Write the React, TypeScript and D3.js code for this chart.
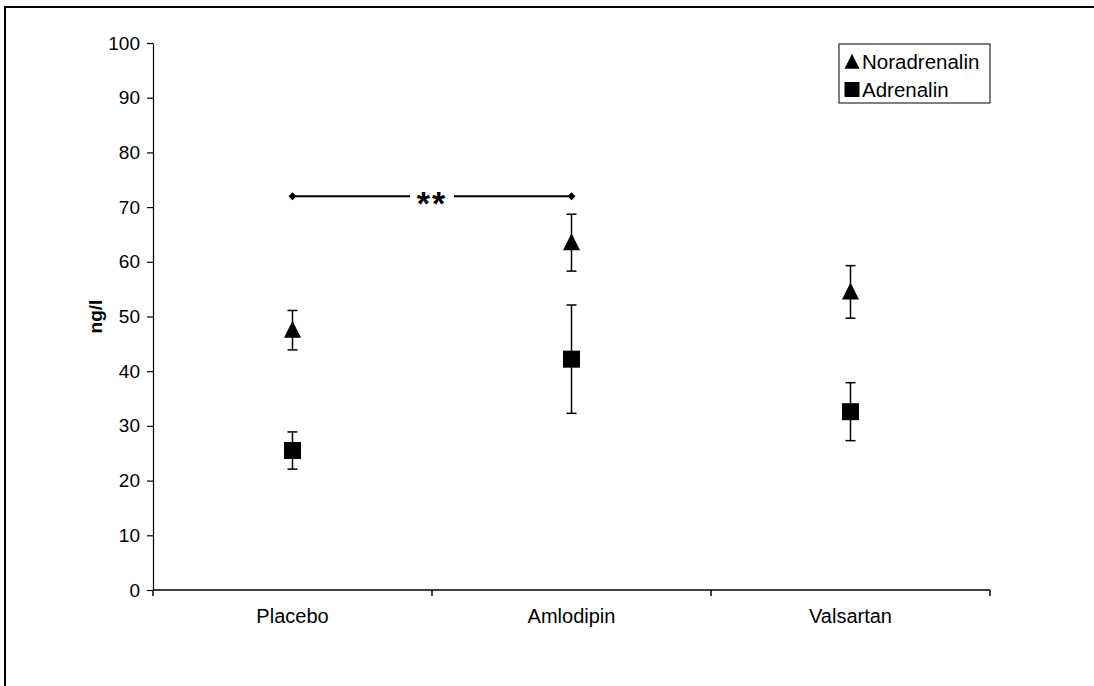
import * as d3 from "d3";
import { useEffect, useRef } from "react";

const categories = ["Placebo", "Amlodipin", "Valsartan"];
const noradrenalin = [47.5, 63.5, 54.5];
const noradrenalinErr = [3.6, 5.2, 4.8];
const adrenalin = [25.5, 42.2, 32.6];
const adrenalinErr = [3.4, 9.9, 5.3];
const yTicks = [0, 10, 20, 30, 40, 50, 60, 70, 80, 90, 100];
const sigLevel = 72;
const sigPair = ["Placebo", "Amlodipin"];

const W = 1094;
const H = 686;
const FONT = "'Liberation Sans', Arial, sans-serif";

export default function App() {
  const ref = useRef<SVGSVGElement>(null);

  useEffect(() => {
    const svg = d3.select(ref.current);
    svg.selectAll("*").remove();
    svg.attr("font-family", FONT);

    const left = 153, right = 990, top = 43, bottom = 590;

    const x = d3.scaleBand().domain(categories).range([left, right]).padding(0);
    const y = d3.scaleLinear().domain([0, 100]).range([bottom, top]);
    const cx = (c) => x(c) + x.bandwidth() / 2;

    // outer frame (runs off the page at right and bottom)
    svg.append("path")
      .attr("d", `M5,${H + 10}V7H${W + 10}`)
      .attr("fill", "none").attr("stroke", "#000").attr("stroke-width", 2);

    // y axis
    const ya = svg.append("g").attr("transform", `translate(${left},0)`)
      .call(d3.axisLeft(y).tickValues(yTicks).tickSize(6).tickSizeOuter(0).tickPadding(7));
    ya.select(".domain").attr("stroke", "#000").attr("stroke-width", 1.2);
    ya.selectAll("line").attr("stroke", "#000").attr("stroke-width", 1.2);
    ya.selectAll("text").attr("font-size", 19).attr("font-family", FONT).attr("fill", "#000");

    // x axis
    svg.append("line").attr("x1", left).attr("x2", right).attr("y1", bottom).attr("y2", bottom)
      .attr("stroke", "#000").attr("stroke-width", 1.5);
    const edges = categories.map((c) => x(c)).concat([right]);
    svg.selectAll(".xt").data(edges).join("line")
      .attr("x1", (d) => d).attr("x2", (d) => d).attr("y1", bottom).attr("y2", bottom + 6)
      .attr("stroke", "#000").attr("stroke-width", 1.5);
    svg.selectAll(".xl").data(categories).join("text")
      .attr("x", (d) => cx(d)).attr("y", bottom + 33)
      .attr("text-anchor", "middle").attr("font-size", 20).text((d) => d);

    svg.append("text")
      .attr("transform", `translate(102,${(top + bottom) / 2}) rotate(-90)`)
      .attr("text-anchor", "middle").attr("font-size", 19).attr("font-weight", "bold")
      .text("ng/l");

    // error bars
    const drawErr = (vals, errs) => {
      categories.forEach((c, i) => {
        const g = svg.append("g").attr("stroke", "#000").attr("stroke-width", 1.5);
        const lo = y(vals[i] - errs[i]), hi = y(vals[i] + errs[i]);
        g.append("line").attr("x1", cx(c)).attr("x2", cx(c)).attr("y1", lo).attr("y2", hi);
        g.append("line").attr("x1", cx(c) - 5).attr("x2", cx(c) + 5).attr("y1", lo).attr("y2", lo);
        g.append("line").attr("x1", cx(c) - 5).attr("x2", cx(c) + 5).attr("y1", hi).attr("y2", hi);
      });
    };
    drawErr(noradrenalin, noradrenalinErr);
    drawErr(adrenalin, adrenalinErr);

    const tri = (px, py, s) => `M${px},${py - s * 0.55}L${px + s / 2},${py + s * 0.45}L${px - s / 2},${py + s * 0.45}Z`;

    svg.selectAll(".nor").data(categories).join("path")
      .attr("d", (c, i) => tri(cx(c), y(noradrenalin[i]), 17)).attr("fill", "#000");
    svg.selectAll(".adr").data(categories).join("rect")
      .attr("x", (c) => cx(c) - 8.5).attr("y", (c, i) => y(adrenalin[i]) - 8.5)
      .attr("width", 17).attr("height", 17).attr("fill", "#000");

    // significance bracket
    const sx1 = cx(sigPair[0]), sx2 = cx(sigPair[1]), sy = y(sigLevel);
    const mid = (sx1 + sx2) / 2;
    svg.append("line").attr("x1", sx1).attr("x2", mid - 22).attr("y1", sy).attr("y2", sy)
      .attr("stroke", "#000").attr("stroke-width", 2);
    svg.append("line").attr("x1", mid + 22).attr("x2", sx2).attr("y1", sy).attr("y2", sy)
      .attr("stroke", "#000").attr("stroke-width", 2);
    [sx1, sx2].forEach((px) => {
      svg.append("path").attr("d", `M${px - 4},${sy}L${px},${sy - 4}L${px + 4},${sy}L${px},${sy + 4}Z`).attr("fill", "#000");
    });
    svg.append("text").attr("x", mid).attr("y", sy + 19).attr("text-anchor", "middle")
      .attr("font-size", 34).attr("font-weight", "bold").attr("letter-spacing", 2).text("**");

    // legend
    const lg = svg.append("g").attr("transform", "translate(839,44)");
    lg.append("rect").attr("width", 151).attr("height", 59).attr("fill", "#fff")
      .attr("stroke", "#000").attr("stroke-width", 1);
    lg.append("path").attr("d", tri(13, 18, 15)).attr("fill", "#000");
    lg.append("rect").attr("x", 5.5).attr("y", 38).attr("width", 15).attr("height", 15).attr("fill", "#000");
    lg.append("text").attr("x", 23).attr("y", 25).attr("font-size", 20.5).text("Noradrenalin");
    lg.append("text").attr("x", 23).attr("y", 53).attr("font-size", 20.5).text("Adrenalin");
  }, []);

  return (
    <svg ref={ref} width={W} height={H}
      style={{ position: "absolute", left: 0, top: 0, background: "#fff" }} />
  );
}
